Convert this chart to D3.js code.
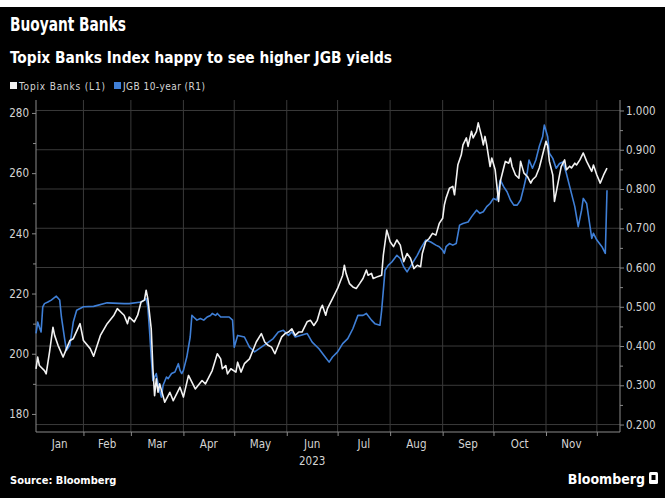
<!DOCTYPE html>
<html><head><meta charset="utf-8">
<script src="https://cdn.jsdelivr.net/npm/d3@7"></script>
<style>
html,body{margin:0;padding:0;background:#000;}
svg{display:block;}
text{font-family:"DejaVu Sans Condensed","DejaVu Sans",sans-serif;}
</style></head><body>
<svg id="chart" width="665" height="498"></svg>
<script>
// ---------- DATA ----------
const title = "Buoyant Banks";
const subtitle = "Topix Banks Index happy to see higher JGB yields";
const seriesNames = ["Topix Banks  (L1)", "JGB 10-year  (R1)"];
const monthLabels = ["Jan","Feb","Mar","Apr","May","Jun","Jul","Aug","Sep","Oct","Nov"];
const yearLabel = "2023";
const leftTicks = [180, 200, 220, 240, 260, 280];
const rightTicks = [0.2, 0.3, 0.4, 0.5, 0.6, 0.7, 0.8, 0.9, 1.0];

const topixDates = ["01-04","01-05","01-06","01-09","01-10","01-12","01-14","01-15","01-17","01-20","01-22","01-24","01-26","01-30",
"02-01","02-05","02-07","02-11","02-15","02-19","02-21","02-25","02-27","02-28",
"03-03","03-05","03-07","03-09","03-10","03-11","03-13","03-14","03-15","03-16","03-17","03-18","03-21","03-24","03-26","03-30",
"04-01","04-04","04-08","04-12","04-14","04-18","04-21","04-23","04-24","04-26","04-27","04-29",
"05-02","05-03","05-05","05-07","05-10","05-12","05-14","05-17","05-19","05-21","05-23","05-25","05-27","05-29","05-31",
"06-02","06-04","06-06","06-08","06-10","06-13","06-15","06-17","06-19","06-21","06-22","06-24","06-25","06-28","06-30",
"07-01","07-04","07-05","07-06","07-08","07-10","07-12","07-14","07-16","07-18","07-19","07-21","07-22","07-25","07-27","07-28","07-30",
"08-01","08-03","08-05","08-07","08-09","08-11","08-13","08-15","08-17","08-19","08-20","08-22","08-24","08-26","08-28","08-30",
"09-01","09-02","09-03","09-05","09-07","09-08","09-10","09-12","09-13","09-15","09-16","09-18","09-19","09-21","09-22","09-24","09-25","09-26","09-27","09-29","09-30",
"10-02","10-04","10-05","10-07","10-08","10-10","10-11","10-12","10-14","10-16","10-17","10-19","10-21","10-23","10-24","10-26","10-28","10-30",
"11-01","11-02","11-03","11-05","11-06","11-09","11-10","11-12","11-13","11-15","11-16","11-18","11-19","11-21","11-23","11-25","11-27","11-28","11-29",
"12-01","12-03","12-05","12-07"];
const topixValues = [195.0,198.9,196.1,194.4,193.3,200.6,208.8,206.1,202.8,198.9,201.7,204.4,205.0,210.0,
204.4,201.7,199.2,206.1,210.0,212.8,215.0,212.8,210.0,212.2,
210.6,212.8,217.2,217.8,221.1,218.3,208.3,195.0,186.1,191.7,187.2,190.0,183.9,187.2,184.4,188.9,
185.6,192.8,188.3,191.1,190.0,194.4,200.0,198.3,195.0,196.1,193.3,195.0,
193.9,197.2,193.9,196.7,198.3,201.1,203.9,206.7,203.9,202.8,202.2,200.0,202.8,205.6,206.7,
207.2,208.3,206.1,207.2,207.2,210.6,211.1,209.4,211.1,215.0,216.1,212.8,215.0,218.3,220.6,
221.7,226.1,229.4,226.7,223.3,222.2,221.7,223.3,225.0,227.8,226.1,226.7,225.0,225.7,226.1,232.8,241.1,
237.2,235.6,237.8,236.1,230.6,233.3,231.7,228.3,229.4,228.9,233.3,237.2,238.3,240.0,239.4,243.3,
245.0,249.4,251.7,255.0,255.6,252.8,262.8,266.1,269.4,271.7,268.9,273.9,271.7,273.9,276.7,272.2,269.4,272.2,269.4,262.2,265.0,
261.1,250.6,257.2,261.7,263.9,263.3,265.0,262.2,259.4,258.3,263.9,260.0,258.9,256.7,257.8,258.9,261.7,266.1,
270.6,269.0,263.9,259.4,250.6,259.4,262.2,264.4,261.1,262.3,261.7,263.3,262.7,264.4,266.7,263.9,261.7,260.6,262.7,
259.4,256.7,259.4,261.7];

const jgbDates = ["01-04","01-05","01-06","01-07","01-08","01-09","01-11","01-13","01-16","01-18","01-19","01-21","01-22","01-24","01-26","01-28",
"02-01","02-07","02-15","02-25","02-28",
"03-07","03-09","03-10","03-11","03-12","03-13","03-14","03-16","03-17","03-18","03-19","03-20","03-22","03-23","03-25","03-27","03-29","03-30","03-31",
"04-01","04-03","04-05","04-06","04-07","04-09","04-11","04-13","04-15","04-17","04-18","04-20","04-21","04-23","04-26","04-28","04-30",
"05-01","05-03","05-07","05-10","05-13","05-17","05-20","05-24","05-27","05-30",
"06-02","06-04","06-06","06-09","06-13","06-16","06-20","06-23","06-26","06-28",
"07-01","07-04","07-07","07-10","07-13","07-16","07-18","07-21","07-23","07-26","07-27","07-29","07-31",
"08-02","08-05","08-07","08-09","08-11","08-14","08-17","08-19","08-22","08-25","08-28","08-30",
"09-01","09-02","09-03","09-05","09-07","09-09","09-11","09-13","09-16","09-18","09-21","09-23","09-25","09-27","09-29",
"10-01","10-03","10-05","10-07","10-09","10-11","10-13","10-15","10-17","10-19","10-21","10-22","10-24","10-26","10-28","10-30","10-31",
"11-02","11-03","11-05","11-07","11-09","11-11","11-13","11-15","11-18","11-20","11-22","11-23","11-25","11-27","11-28","11-29",
"12-01","12-04","12-06","12-07"];
const jgbValues = [0.432,0.461,0.448,0.436,0.500,0.508,0.512,0.517,0.527,0.517,0.474,0.415,0.389,0.402,0.461,0.491,
0.500,0.501,0.510,0.508,0.508,
0.512,0.517,0.521,0.500,0.440,0.372,0.312,0.330,0.304,0.287,0.270,0.300,0.321,0.317,0.330,0.334,0.355,0.338,0.330,
0.338,0.372,0.423,0.478,0.474,0.466,0.470,0.466,0.474,0.478,0.483,0.478,0.483,0.474,0.474,0.474,0.466,
0.397,0.427,0.423,0.397,0.385,0.397,0.406,0.419,0.436,0.440,
0.427,0.436,0.423,0.427,0.432,0.410,0.393,0.376,0.359,0.372,
0.385,0.406,0.419,0.444,0.478,0.478,0.483,0.466,0.457,0.453,0.491,0.593,0.606,
0.614,0.631,0.623,0.602,0.589,0.610,0.631,0.648,0.670,0.665,0.657,0.653,
0.644,0.636,0.653,0.661,0.657,0.661,0.708,0.712,0.716,0.729,0.746,0.738,0.742,0.755,0.763,
0.776,0.772,0.823,0.806,0.793,0.772,0.759,0.759,0.772,0.806,0.844,0.874,0.853,0.874,0.908,0.933,0.963,
0.933,0.891,0.878,0.853,0.865,0.869,0.840,0.806,0.755,0.704,0.746,0.776,0.763,0.704,0.674,0.687,
0.670,0.653,0.636,0.797];

// ---------- LAYOUT ----------
const W = 665, H = 498;
const plot = {left: 36, right: 620, top: 100, bottom: 432};
const parse = d3.timeParse("%Y-%m-%d");
const toDate = s => parse(yearLabel + "-" + s);

const topix = topixDates.map((d, i) => ({date: toDate(d), value: topixValues[i]}));
const jgb = jgbDates.map((d, i) => ({date: toDate(d), value: jgbValues[i]}));

const x = d3.scaleTime()
  .domain([toDate("01-04"), toDate("12-07")])
  .range([plot.left, 607]);
const yL = d3.scaleLinear().domain([174.0, 284.3]).range([plot.bottom, plot.top]);
const yR = d3.scaleLinear().domain([0.181, 1.0267]).range([plot.bottom, plot.top]);

const svg = d3.select("#chart");
svg.append("rect").attr("width", W).attr("height", H).attr("fill", "#000");
svg.append("rect").attr("width", W).attr("height", 7).attr("fill", "#fff");

const gridColor = "#3a3a3a";
const axisColor = "#8a8a8a";
const textColor = "#d4d4d4";

// horizontal grid (right-axis ticks)
svg.append("g").selectAll("line").data(rightTicks).join("line")
  .attr("x1", plot.left).attr("x2", plot.right)
  .attr("y1", d => yR(d)).attr("y2", d => yR(d))
  .attr("stroke", gridColor).attr("stroke-width", 1);

// month boundaries
const monthStarts = d3.timeMonth.range(toDate("02-01"), toDate("12-02"));
svg.append("g").selectAll("line").data(monthStarts).join("line")
  .attr("x1", d => x(d)).attr("x2", d => x(d))
  .attr("y1", plot.top).attr("y2", plot.bottom)
  .attr("stroke", gridColor).attr("stroke-width", 1);

// left axis
const gL = svg.append("g").attr("transform", `translate(${plot.left},0)`)
  .call(d3.axisLeft(yL).tickValues(leftTicks).tickSize(4).tickPadding(3));
const gLm = svg.append("g").attr("transform", `translate(${plot.left},0)`)
  .call(d3.axisLeft(yL).tickValues(leftTicks.slice(0, -1).map(d => d + 10)).tickSize(3).tickFormat(""));
// right axis
const gR = svg.append("g").attr("transform", `translate(${plot.right},0)`)
  .call(d3.axisRight(yR).tickValues(rightTicks).tickSize(4).tickPadding(2).tickFormat(d3.format(".3f")));
const gRm = svg.append("g").attr("transform", `translate(${plot.right},0)`)
  .call(d3.axisRight(yR).tickValues(rightTicks.slice(0, -1).map(d => d + 0.05)).tickSize(3).tickFormat(""));
// bottom axis
const gB = svg.append("g").attr("transform", `translate(0,${plot.bottom})`)
  .call(d3.axisBottom(x).tickValues(monthStarts).tickSize(4).tickFormat(""));

[gL, gLm, gR, gRm, gB].forEach(g => {
  g.selectAll("path.domain").attr("stroke", axisColor);
  g.selectAll(".tick line").attr("stroke", axisColor);
  g.selectAll("text").attr("fill", textColor).attr("font-size", 11.5)
    .style("font-family", '"DejaVu Sans Condensed","DejaVu Sans",sans-serif');
});
gB.select("path.domain").attr("d", `M${plot.left},0H${plot.right}`);
gL.select("path.domain").attr("d", `M0,${plot.top}V${plot.bottom}`);
gR.select("path.domain").attr("d", `M0,${plot.top}V${plot.bottom}`);
gLm.select("path.domain").remove();
gRm.select("path.domain").remove();

// month labels centered in month span
const bounds = [x.domain()[0], ...monthStarts];
svg.append("g").selectAll("text").data(monthLabels).join("text")
  .attr("x", (d, i) => (x(bounds[i]) + x(bounds[i + 1])) / 2)
  .attr("y", 448)
  .attr("text-anchor", "middle")
  .attr("fill", textColor).attr("font-size", 11.5)
  .text(d => d);
svg.append("text").attr("x", (x(toDate("06-01")) + x(toDate("07-01"))) / 2).attr("y", 465)
  .attr("text-anchor", "middle").attr("fill", textColor).attr("font-size", 11.5).text(yearLabel);

// lines
const lineL = d3.line().x(d => x(d.date)).y(d => yL(d.value));
const lineR = d3.line().x(d => x(d.date)).y(d => yR(d.value));
const blue = "#3f7fd6";
svg.append("path").datum(jgb).attr("d", lineR).attr("fill", "none")
  .attr("stroke", blue).attr("stroke-width", 1.6).attr("stroke-linejoin", "round");
svg.append("path").datum(topix).attr("d", lineL).attr("fill", "none")
  .attr("stroke", "#f2f2f2").attr("stroke-width", 1.6).attr("stroke-linejoin", "round");

// titles (narrow Bloomberg-style face approximated by compressing a condensed font)
svg.append("text").attr("x", 10).attr("y", 31).attr("fill", "#fff")
  .attr("font-size", 20).attr("font-weight", "bold")
  .attr("textLength", 116).attr("lengthAdjust", "spacingAndGlyphs").text(title);
svg.append("text").attr("x", 10).attr("y", 63).attr("fill", "#fff")
  .attr("font-size", 16).attr("font-weight", "bold")
  .attr("textLength", 382).attr("lengthAdjust", "spacingAndGlyphs").text(subtitle);

// legend
const legend = svg.append("g");
const legendItems = [{name: seriesNames[0], color: "#f2f2f2", x: 10, w: 86}, {name: seriesNames[1], color: blue, x: 114, w: 82}];
legendItems.forEach(it => {
  legend.append("rect").attr("x", it.x).attr("y", 82).attr("width", 7).attr("height", 7).attr("fill", it.color);
  legend.append("text").attr("x", it.x + 9).attr("y", 89.5).attr("fill", textColor)
    .attr("font-size", 10).attr("textLength", it.w).attr("lengthAdjust", "spacing").text(it.name);
});

// footer
svg.append("text").attr("x", 10).attr("y", 484).attr("fill", "#fff")
  .attr("font-size", 11).attr("font-weight", "bold").text("Source: Bloomberg");
svg.append("text").attr("x", 645).attr("y", 484).attr("text-anchor", "end").attr("fill", "#fff")
  .attr("font-size", 14).attr("font-weight", "bold").text("Bloomberg");
svg.append("rect").attr("x", 649).attr("y", 472).attr("width", 9).attr("height", 12).attr("rx", 1.5).attr("fill", "#fff");
svg.append("rect").attr("x", 651.5).attr("y", 475).attr("width", 4).attr("height", 5).attr("fill", "#000");
</script></body></html>
